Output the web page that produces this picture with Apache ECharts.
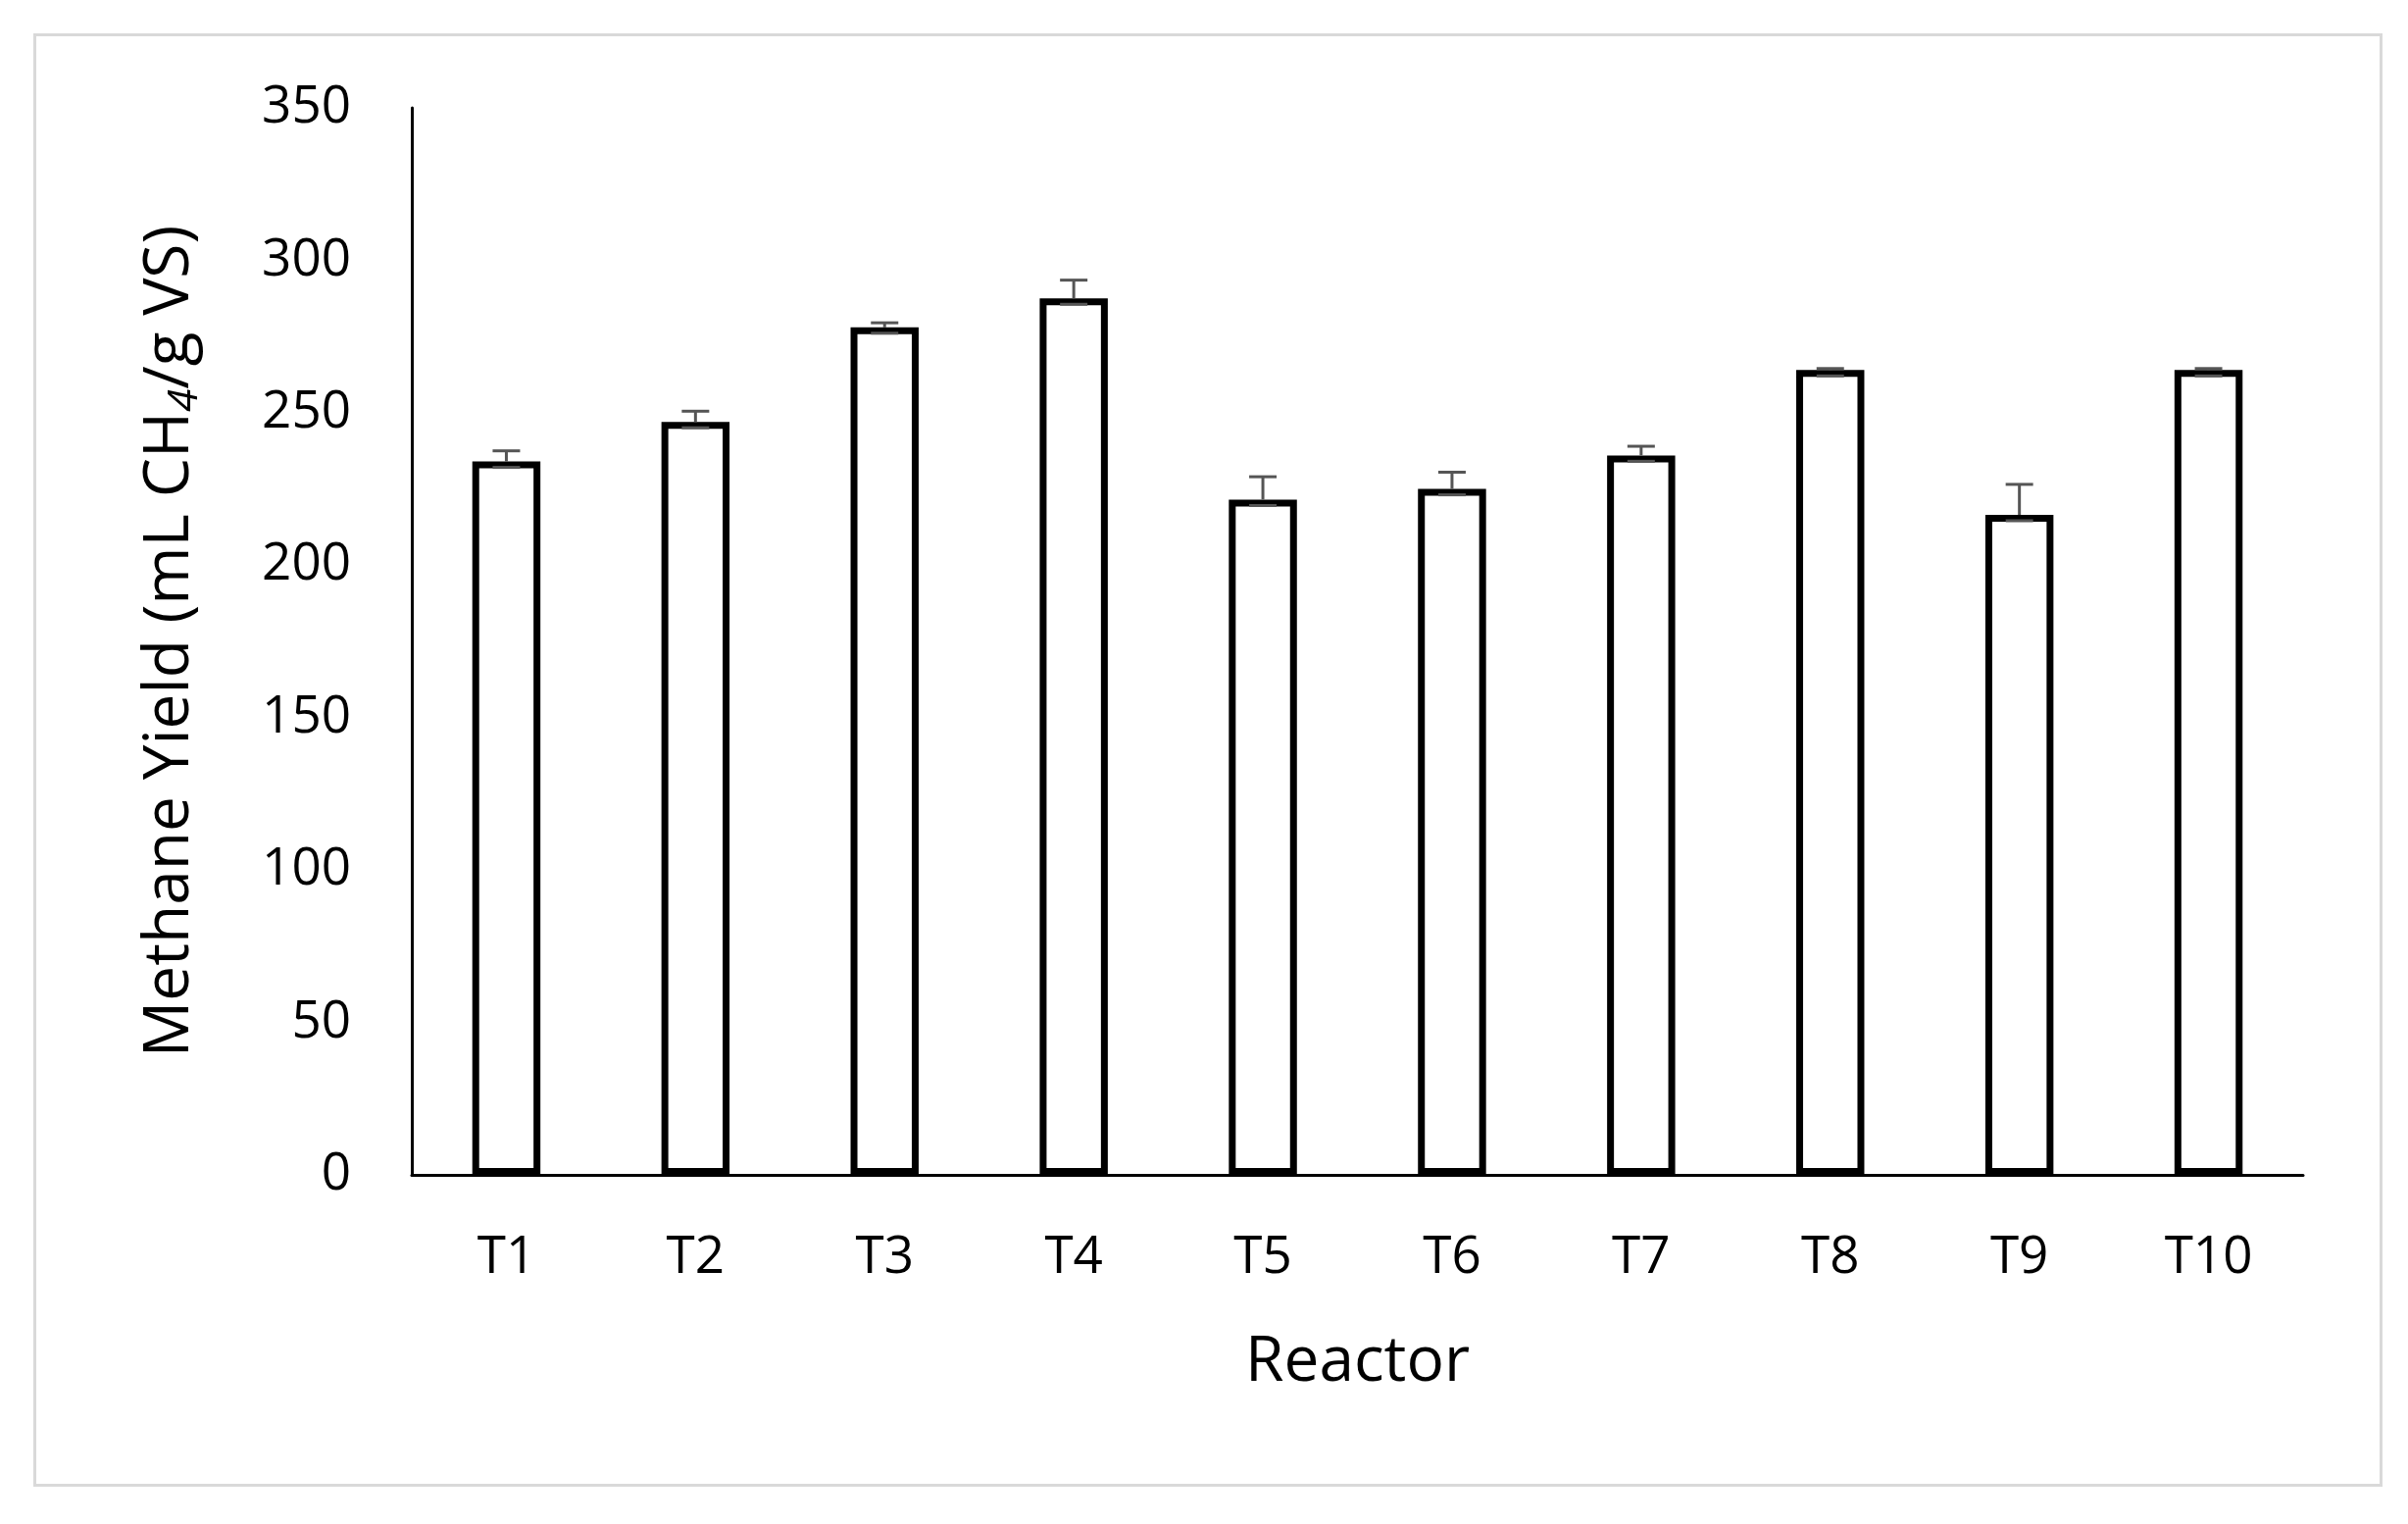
<!DOCTYPE html>
<html>
<head>
<meta charset="utf-8">
<script src="https://cdn.jsdelivr.net/npm/echarts@6/dist/echarts.min.js"></script>
<style>
  html, body { margin: 0; padding: 0; background: #fff; }
  #frame { position: absolute; left: 34px; top: 34px; width: 2390px; height: 1476px; border: 3px solid #d9d9d9; }
  #main { width: 2456px; height: 1554px; }
</style>
</head>
<body>
<div id="frame"></div>
<div id="main"></div>
<script>
var reactors = ['T1', 'T2', 'T3', 'T4', 'T5', 'T6', 'T7', 'T8', 'T9', 'T10'];
var yields = [234, 247, 278, 287.5, 221.5, 225, 236, 264, 216.5, 264];
var errors = [3.5, 3.5, 1.5, 6, 7.5, 5.5, 3, 0.5, 10, 0.5];

var chart = echarts.init(document.getElementById('main'));
var font = 'Open Sans';

chart.setOption({
    animation: false,
    grid: { left: 420, right: 107, top: 110, bottom: 356 },
    xAxis: {
        type: 'category',
        data: reactors,
        name: 'Reactor',
        nameLocation: 'middle',
        nameGap: 160,
        nameTextStyle: { fontFamily: font, fontSize: 64, color: '#000' },
        axisLine: { lineStyle: { color: '#000', width: 3 } },
        axisTick: { show: false },
        axisLabel: { fontFamily: font, fontSize: 53, color: '#000', margin: 58 }
    },
    yAxis: {
        type: 'value',
        min: 0, max: 350, interval: 50,
        name: '{t|Methane Yield (mL CH}{s|4}{t|/g VS)}',
        nameLocation: 'middle',
        nameGap: 210,
        nameTextStyle: {
            rich: {
                t: { fontFamily: font, fontSize: 64, color: '#000' },
                s: { fontFamily: font, fontSize: 42, fontStyle: 'italic', color: '#000', padding: [30, 0, 0, 0] }
            }
        },
        axisLine: { show: true, lineStyle: { color: '#000', width: 3 } },
        axisTick: { show: false },
        splitLine: { show: false },
        axisLabel: { fontFamily: font, fontSize: 53, color: '#000', margin: 62 }
    },
    series: [
        {
            type: 'bar',
            data: yields,
            barWidth: '36%',
            itemStyle: { color: '#fff', borderColor: '#000', borderWidth: 7 }
        },
        {
            type: 'custom',
            z: 5,
            data: yields.map(function (v, i) { return [i, v, v + errors[i]]; }),
            renderItem: function (params, api) {
                var lo = api.coord([api.value(0), api.value(1)]);
                var hi = api.coord([api.value(0), api.value(2)]);
                var w = 14;
                var st = { stroke: '#555', lineWidth: 3 };
                return {
                    type: 'group',
                    children: [
                        { type: 'line', shape: { x1: lo[0], y1: lo[1], x2: hi[0], y2: hi[1] }, style: st },
                        { type: 'line', shape: { x1: hi[0] - w, y1: hi[1], x2: hi[0] + w, y2: hi[1] }, style: st },
                        { type: 'line', shape: { x1: lo[0] - w, y1: lo[1] + 6, x2: lo[0] + w, y2: lo[1] + 6 }, style: st }
                    ]
                };
            }
        }
    ]
});
</script>
</body>
</html>
